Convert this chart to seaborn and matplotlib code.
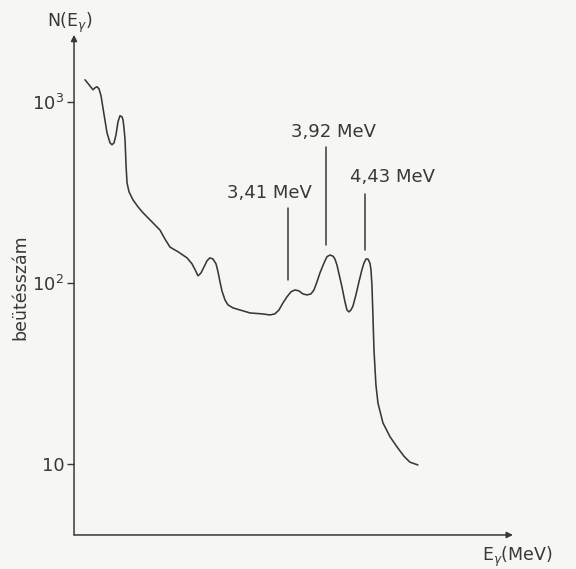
import matplotlib
matplotlib.use('Agg')
import matplotlib.pyplot as plt
import pandas as pd
import seaborn as sns
from matplotlib.ticker import FixedLocator, NullLocator

# gamma spectrum (log counts vs energy)
energy_mev = [0.722, 0.775, 0.828, 0.854, 0.881, 0.907, 0.934, 0.974, 1.013, 1.053,
              1.079, 1.106, 1.132, 1.159, 1.185, 1.212, 1.225, 1.238, 1.252, 1.265,
              1.278, 1.305, 1.358, 1.424, 1.490, 1.583, 1.715, 1.781, 1.848, 1.954,
              2.073, 2.139, 2.179, 2.219, 2.258, 2.298, 2.338, 2.377, 2.417, 2.457,
              2.483, 2.510, 2.536, 2.576, 2.616, 2.682, 2.775, 2.907, 3.066, 3.172,
              3.238, 3.291, 3.344, 3.397, 3.450, 3.503, 3.556, 3.609, 3.662, 3.715,
              3.755, 3.795, 3.834, 3.887, 3.927, 3.967, 4.007, 4.033, 4.060, 4.086,
              4.126, 4.166, 4.192, 4.219, 4.245, 4.272, 4.311, 4.351, 4.391, 4.417,
              4.444, 4.470, 4.497, 4.510, 4.523, 4.536, 4.550, 4.576, 4.603, 4.669,
              4.762, 4.854, 4.947, 5.026, 5.132]
counts = [1318, 1237, 1161, 1191, 1206, 1175, 1075, 845, 672, 591,
          577, 591, 655, 773, 834, 823, 792, 716, 614, 447,
          356, 317, 286, 262, 243, 222, 195, 174, 157, 148,
          137, 127, 118, 109, 113, 122, 132, 137, 135, 127,
          115, 101, 90.0, 80.2, 75.3, 72.5, 70.6, 68.0, 67.2, 66.3,
          67.2, 70.6, 77.2, 83.4, 88.9, 91.1, 90.0, 86.6, 85.5, 86.6,
          91.1, 101, 113, 128, 139, 142, 140, 135, 125, 112,
          94.7, 78.2, 70.6, 68.9, 70.6, 74.3, 85.5, 101, 118, 128,
          135, 135, 128, 118, 97.1, 66.3, 42.5, 27.2, 21.6, 16.8,
          14.1, 12.4, 11.0, 10.2, 9.84]

peak_energy = [3.41, 3.92, 4.43]
peak_labels = ['3,41 MeV', '3,92 MeV', '4,43 MeV']
peak_line_bottom = [103, 162, 152]
peak_line_top = [259, 562, 309]
peak_label_energy = [3.17, 4.01, 4.80]
peak_label_counts = [313, 680, 384]

y_ticks = [10, 100, 1000]
y_tick_labels = ['10', '10$^2$', '10$^3$']

ink = '#383838'
paper = '#f6f6f4'


def main(outfile='out.png'):
    sns.set_style('white')
    plt.rcParams['font.family'] = ['DejaVu Sans']
    plt.rcParams['mathtext.fontset'] = 'dejavusans'

    df = pd.DataFrame({'E [MeV]': energy_mev, 'N': counts})

    fig = plt.figure(figsize=(5.76, 5.69), dpi=100, facecolor=paper)
    ax = fig.add_axes([0.1285, 0.0598, 0.762, 0.879])
    ax.set_facecolor(paper)

    sns.lineplot(ax=ax, data=df, x='E [MeV]', y='N', sort=False, estimator=None,
                 color=ink, linewidth=1.15)
    ax.lines[-1].set_solid_joinstyle('round')

    ax.set_yscale('log')
    ax.set_xlim(0.576, 6.391)
    ax.set_ylim(4.04, 2335)

    # peak markers
    for e, lo, hi, lab, lx, ly in zip(peak_energy, peak_line_bottom, peak_line_top,
                                      peak_labels, peak_label_energy, peak_label_counts):
        ax.plot([e, e], [lo, hi], color=ink, linewidth=1.1)
        ax.text(lx, ly, lab, ha='center', va='center', fontsize=13, color=ink)

    ax.yaxis.set_major_locator(FixedLocator(y_ticks))
    ax.yaxis.set_minor_locator(NullLocator())
    ax.set_yticklabels(y_tick_labels, fontsize=13, color=ink)
    ax.set_xticks([])
    ax.tick_params(axis='y', direction='out', length=5, width=1.0, color=ink, pad=2, left=True)
    ax.set_xlabel('')
    ax.set_ylabel('')

    for s in ax.spines.values():
        s.set_visible(False)

    # axes drawn as arrows
    arrow = dict(arrowstyle='-|>', color=ink, linewidth=1.1, mutation_scale=9,
                 shrinkA=0, shrinkB=0)
    ax.annotate('', xy=(1, 0), xytext=(0, 0), xycoords='axes fraction',
                textcoords='axes fraction', arrowprops=arrow, annotation_clip=False)
    ax.annotate('', xy=(0, 1), xytext=(0, 0), xycoords='axes fraction',
                textcoords='axes fraction', arrowprops=arrow, annotation_clip=False)

    fig.text(70 / 576, 1 - 23 / 569, 'N(E$_\\gamma$)', ha='center', va='center',
             fontsize=12.5, color=ink)
    fig.text(517 / 576, 1 - 557 / 569, 'E$_\\gamma$(MeV)', ha='center', va='center',
             fontsize=12.5, color=ink)
    fig.text(20 / 576, 1 - 287 / 569, 'beütésszám', rotation=90, ha='center',
             va='center', fontsize=12.5, color=ink)

    fig.savefig(outfile, dpi=100, facecolor=paper)


if __name__ == '__main__':
    main()
